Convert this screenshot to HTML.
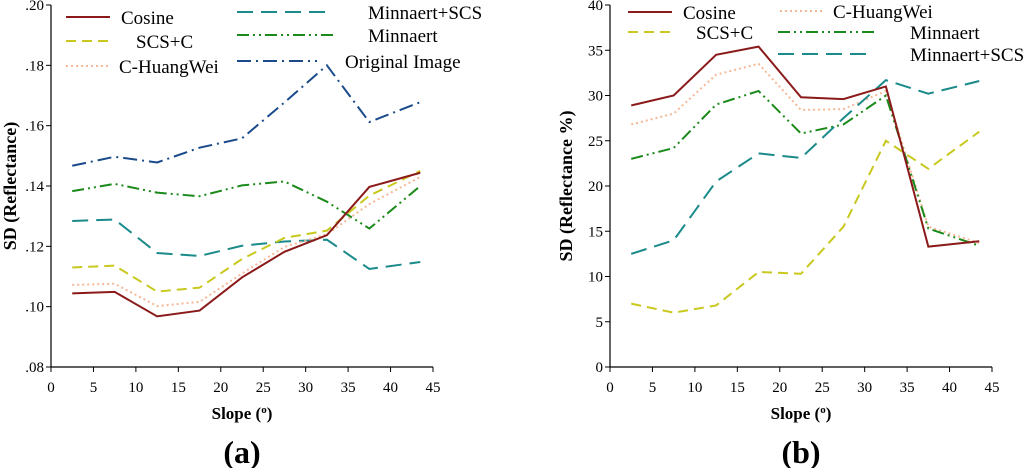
<!DOCTYPE html>
<html><head><meta charset="utf-8"><style>
body{margin:0;background:#fff;width:1024px;height:468px;overflow:hidden}
svg{display:block}
text{font-family:"Liberation Serif",serif}
</style></head><body>
<svg id="s" width="1024" height="468"></svg>
<script>
const xVals=[2.5,7.5,12.5,17.5,22.5,27.5,32.5,37.5,43.5];
const xTicks=[0,5,10,15,20,25,30,35,40,45];
const aTicks=[0.08,0.10,0.12,0.14,0.16,0.18,0.20];
const aTickLabels=[".08",".10",".12",".14",".16",".18",".20"];
const bTicks=[0,5,10,15,20,25,30,35,40];
const aCosine=[.1044,.1049,.0968,.0987,.1097,.1182,.1237,.1397,.1444];
const aSCSC=[.113,.1136,.105,.1063,.1158,.1228,.1252,.1368,.145];
const aHuang=[.1072,.1076,.1002,.1016,.111,.1198,.124,.134,.143];
const aMinn=[.1383,.1407,.1378,.1366,.1402,.1415,.1348,.1259,.140];
const aMinnSCS=[.1284,.1289,.1178,.1168,.1202,.1216,.1222,.1125,.1148];
const aOrig=[.1467,.1497,.1478,.1527,.1558,.1677,.180,.1612,.1678];
const bCosine=[28.9,30,34.5,35.4,29.8,29.6,31.0,13.3,13.9];
const bHuang=[26.8,28,32.3,33.5,28.4,28.5,30.5,15.5,13.7];
const bMinn=[23,24.2,29,30.5,25.8,26.8,30,15.3,13.4];
const bMinnSCS=[12.5,14,20.5,23.6,23.1,27.5,31.7,30.2,31.6];
const bSCSC=[7,6,6.8,10.5,10.3,15.5,25,21.9,26];

const NS="http://www.w3.org/2000/svg";
const svg=document.getElementById('s');
function mk(t,a,p){const e=document.createElementNS(NS,t);for(const k in a)e.setAttribute(k,a[k]);(p||svg).appendChild(e);return e;}
const styles={
 cos:{stroke:'#8b1a1a',da:'',w:2},
 scs:{stroke:'#c8c81e',da:'10,6',w:2},
 huang:{stroke:'#f5b896',da:'2,3',w:2},
 minn:{stroke:'#1a8a1a',da:'12,4,2,4,2,4',w:2},
 mscs:{stroke:'#1a8a8a',da:'16,8',w:2},
 orig:{stroke:'#1a4a8a',da:'14,5,2,5',w:2}
};
function chart(id,x0,x1,y0,y1,ymin,ymax,ticks,tlabels,series,ytitle,letter,legend,tfont){
 const g=mk('g',{});
 
 
 const sx=v=>x0+(v-0)/45*(x1-x0);
 const sy=v=>y0-(v-ymin)/(ymax-ymin)*(y0-y1);
 const ax=mk('path',{d:`M${x0} ${y1}V${y0}H${x1}`,stroke:'#000','stroke-width':1.2,fill:'none'},g);
 
 
 xTicks.forEach(t=>{mk('line',{x1:sx(t),x2:sx(t),y1:y0,y2:y0+5,stroke:'#000'},g);
  const tx=mk('text',{x:sx(t),y:y0+25,'text-anchor':'middle','font-size':15,'font-family':tfont},g);tx.textContent=t;
  
  });
 ticks.forEach((t,i)=>{mk('line',{x1:x0-5,x2:x0,y1:sy(t),y2:sy(t),stroke:'#000'},g);
  const tx=mk('text',{x:x0-7,y:sy(t)+5,'text-anchor':'end','font-size':15,'font-family':tfont},g);tx.textContent=tlabels[i];
  
  });
 series.forEach(s=>{const st=styles[s.k];
  const p=mk('polyline',{points:s.d.map((v,i)=>sx(xVals[i])+','+sy(v)).join(' '),fill:'none',stroke:st.stroke,'stroke-width':st.w,'stroke-dasharray':st.da},g);
  
  });
 legend.forEach(l=>{const st=styles[l.k];
  const ln=mk('line',{x1:l.lx,x2:l.lx+(l.len||44),y1:l.y,y2:l.y,stroke:st.stroke,'stroke-width':2,'stroke-dasharray':st.da},g);
  
  
  const tx=mk('text',{x:l.tx,y:l.y+7,'font-size':19},g);tx.textContent=l.t;
  
  });
 const yt=mk('text',{transform:`translate(${ytitle.x},${(y0+y1)/2}) rotate(-90)`,'text-anchor':'middle','font-size':18,'font-weight':'bold'},g);
 yt.textContent=ytitle.t;
 
 
 const xt=mk('text',{x:(x0+x1)/2,y:419,'text-anchor':'middle','font-size':17,'font-weight':'bold'},g);
 xt.innerHTML='Slope (<tspan font-size="11" dy="-6">o</tspan><tspan dy="6">)</tspan>';
 
 
 const lt=mk('text',{x:(x0+x1)/2,y:463,'text-anchor':'middle','font-size':32,'font-weight':'bold'},g);
 lt.textContent=letter;
 
 
}
chart('chart-a',51,433,367,5,0.08,0.20,aTicks,aTickLabels,
 [{k:'orig',d:aOrig},{k:'minn',d:aMinn},{k:'mscs',d:aMinnSCS},{k:'huang',d:aHuang},{k:'scs',d:aSCSC},{k:'cos',d:aCosine}],
 {x:16,t:'SD (Reflectance)'},'(a)',
 [{k:'cos',lx:66,tx:121,y:17,t:'Cosine'},{k:'scs',lx:66,tx:136,y:41,t:'SCS+C'},{k:'huang',lx:66,tx:119,y:66,t:'C-HuangWei'},
  {k:'mscs',lx:237,len:95,tx:368,y:12,t:'Minnaert+SCS'},{k:'minn',lx:237,len:100,tx:368,y:35,t:'Minnaert'},{k:'orig',lx:237,len:80,tx:345,y:61,t:'Original Image'}],
 '"Liberation Serif",serif');
chart('chart-b',610,992,367,5,0,40,bTicks,bTicks.map(String),
 [{k:'huang',d:bHuang},{k:'minn',d:bMinn},{k:'mscs',d:bMinnSCS},{k:'scs',d:bSCSC},{k:'cos',d:bCosine}],
 {x:572,t:'SD (Reflectance %)'},'(b)',
 [{k:'cos',lx:628,tx:683,y:12,t:'Cosine'},{k:'scs',lx:628,tx:696,y:32,t:'SCS+C'},
  {k:'huang',lx:780,tx:833,y:11,t:'C-HuangWei'},{k:'minn',lx:778,len:100,tx:910,y:32,t:'Minnaert'},{k:'mscs',lx:778,len:95,tx:910,y:54,t:'Minnaert+SCS'}],
 '"Liberation Sans",sans-serif');
</script>
</body></html>
